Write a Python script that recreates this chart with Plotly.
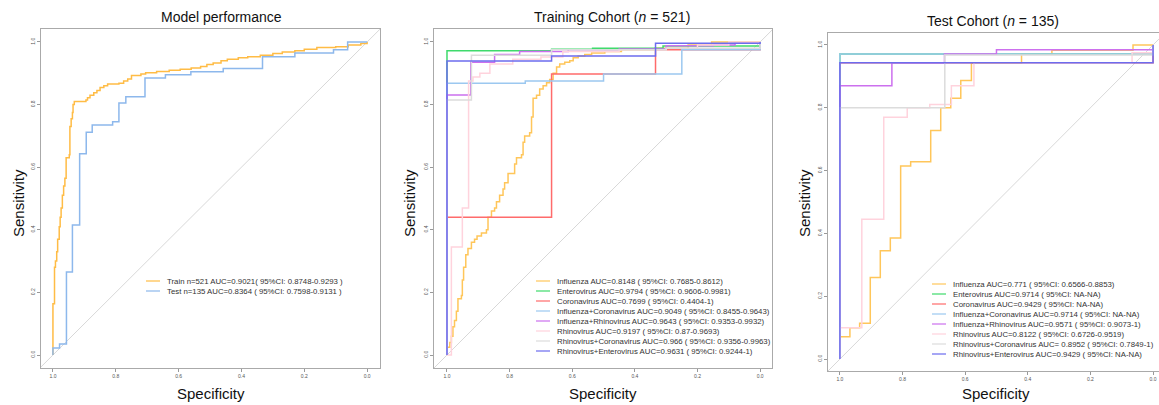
import plotly.graph_objects as go

W, H = 1159, 405

# ---------------- data ----------------
# Panel 1: Model performance
p1_labels = ["Train n=521 AUC=0.9021( 95%CI: 0.8748-0.9293 )",
             "Test n=135 AUC=0.8364 ( 95%CI: 0.7598-0.9131 )"]
p1_colors = ["#FFBC45", "#8DB8EC"]
train_spec = [1.0, 1.0, 0.995, 0.992, 0.988, 0.985, 0.98, 0.977, 0.974, 0.97, 0.966, 0.962, 0.958, 0.948,
              0.946, 0.942, 0.938, 0.936, 0.932, 0.895, 0.89, 0.882, 0.87, 0.86, 0.85, 0.838, 0.826, 0.79,
              0.775, 0.762, 0.75, 0.72, 0.705, 0.67, 0.63, 0.595, 0.56, 0.53, 0.51, 0.49, 0.465, 0.445,
              0.41, 0.38, 0.34, 0.3, 0.27, 0.23, 0.2, 0.16, 0.1, 0.06, 0.02, 0.0]
train_sens = [0.0, 0.164, 0.28, 0.30, 0.33, 0.37, 0.41, 0.44, 0.47, 0.51, 0.54, 0.565, 0.63, 0.64,
              0.73, 0.755, 0.775, 0.80, 0.81, 0.815, 0.822, 0.83, 0.838, 0.845, 0.855, 0.86, 0.866, 0.868,
              0.875, 0.882, 0.893, 0.898, 0.902, 0.906, 0.91, 0.913, 0.917, 0.922, 0.928, 0.933, 0.94, 0.945,
              0.95, 0.953, 0.958, 0.963, 0.968, 0.972, 0.977, 0.982, 0.985, 0.99, 0.995, 1.0]
test_spec = [1.0, 1.0, 0.979, 0.957, 0.938, 0.915, 0.894, 0.875, 0.81, 0.79, 0.768, 0.707, 0.642, 0.561,
             0.458, 0.333, 0.23, 0.107, 0.062, 0.0]
test_sens = [0.0, 0.022, 0.035, 0.265, 0.415, 0.643, 0.712, 0.735, 0.745, 0.805, 0.825, 0.885, 0.895, 0.905,
             0.915, 0.953, 0.965, 0.975, 1.0, 1.0]

# Panels 2 and 3: per-virus models
virus_names = ["Influenza", "Enterovirus", "Coronavirus", "Influenza+Coronavirus",
               "Influenza+Rhinovirus", "Rhinovirus", "Rhinovirus+Coronavirus", "Rhinovirus+Enterovirus"]
virus_colors = ["#FFC65A", "#3FDA6C", "#FF6B6B", "#9CC8F0", "#CC70EE", "#FFD3DD", "#DCDCDC", "#6C6CEE"]

train_labels = ["Influenza AUC=0.8148 ( 95%CI: 0.7685-0.8612)",
                "Enterovirus AUC=0.9794 ( 95%CI: 0.9606-0.9981)",
                "Coronavirus AUC=0.7699 ( 95%CI: 0.4404-1)",
                "Influenza+Coronavirus AUC=0.9049 ( 95%CI: 0.8455-0.9643)",
                "Influenza+Rhinovirus AUC=0.9643 ( 95%CI: 0.9353-0.9932)",
                "Rhinovirus AUC=0.9197 ( 95%CI: 0.87-0.9693)",
                "Rhinovirus+Coronavirus AUC=0.966 ( 95%CI: 0.9356-0.9963)",
                "Rhinovirus+Enterovirus AUC=0.9631 ( 95%CI: 0.9244-1)"]
test_labels = ["Influenza AUC=0.771 ( 95%CI: 0.6566-0.8853)",
               "Enterovirus AUC=0.9714 ( 95%CI: NA-NA)",
               "Coronavirus AUC=0.9429 ( 95%CI: NA-NA)",
               "Influenza+Coronavirus AUC=0.9714 ( 95%CI: NA-NA)",
               "Influenza+Rhinovirus AUC=0.9571 ( 95%CI: 0.9073-1)",
               "Rhinovirus AUC=0.8122 ( 95%CI: 0.6726-0.9519)",
               "Rhinovirus+Coronavirus AUC= 0.8952 ( 95%CI: 0.7849-1)",
               "Rhinovirus+Enterovirus AUC=0.9429 ( 95%CI: NA-NA)"]

tr_influenza_spec = [1.0, 1.0, 0.991, 0.986, 0.981, 0.976, 0.97, 0.965, 0.954, 0.951, 0.947, 0.94, 0.933,
                     0.922, 0.912, 0.904, 0.89, 0.874, 0.869, 0.858, 0.848, 0.842, 0.832, 0.821, 0.816,
                     0.805, 0.784, 0.778, 0.762, 0.757, 0.752, 0.736, 0.73, 0.725, 0.714, 0.704, 0.693,
                     0.682, 0.672, 0.661, 0.65, 0.64, 0.624, 0.608, 0.597, 0.581, 0.56, 0.538, 0.496,
                     0.443, 0.336, 0.23, 0.155, 0.0]
tr_influenza_sens = [0.0, 0.025, 0.04, 0.06, 0.09, 0.11, 0.14, 0.18, 0.19, 0.24, 0.28, 0.32, 0.34,
                     0.36, 0.37, 0.38, 0.39, 0.40, 0.44, 0.46, 0.47, 0.49, 0.51, 0.53, 0.55,
                     0.58, 0.61, 0.63, 0.64, 0.68, 0.70, 0.71, 0.76, 0.82, 0.83, 0.85, 0.86,
                     0.87, 0.88, 0.90, 0.92, 0.93, 0.935, 0.94, 0.95, 0.955, 0.96, 0.965, 0.97,
                     0.975, 0.98, 0.99, 1.0, 1.0]
tr_entero_spec = [1.0, 1.0, 0.666, 0.535, 0.31, 0.0]
tr_entero_sens = [0.0, 0.972, 0.977, 0.98, 0.987, 1.0]
tr_corona_spec = [1.0, 1.0, 0.666, 0.334, 0.0]
tr_corona_sens = [0.0, 0.44, 0.898, 0.975, 1.0]
tr_flu_corona_spec = [1.0, 1.0, 0.75, 0.5, 0.25, 0.0]
tr_flu_corona_sens = [0.0, 0.868, 0.875, 0.898, 0.975, 1.0]
tr_flu_rhino_spec = [1.0, 1.0, 0.924, 0.848, 0.768, 0.613, 0.45, 0.3, 0.15, 0.08, 0.0]
tr_flu_rhino_sens = [0.0, 0.831, 0.935, 0.96, 0.97, 0.975, 0.978, 0.988, 0.99, 0.997, 1.0]
tr_rhino_spec = [1.0, 0.986, 0.951, 0.931, 0.917, 0.895, 0.863, 0.79, 0.70, 0.63, 0.45, 0.3, 0.2, 0.1, 0.0]
tr_rhino_sens = [0.0, 0.345, 0.47, 0.875, 0.888, 0.90, 0.93, 0.945, 0.952, 0.97, 0.975, 0.98, 0.99, 1.0, 1.0]
tr_rhino_corona_spec = [1.0, 1.0, 0.922, 0.666, 0.3, 0.0]
tr_rhino_corona_sens = [0.0, 0.815, 0.958, 0.975, 0.98, 1.0]
tr_rhino_entero_spec = [1.0, 1.0, 0.666, 0.334, 0.0]
tr_rhino_entero_sens = [0.0, 0.939, 0.955, 0.996, 1.0]

te_influenza_spec = [1.0, 1.0, 0.968, 0.937, 0.903, 0.871, 0.839, 0.806, 0.774, 0.71, 0.678, 0.646,
                     0.614, 0.58, 0.42, 0.323, 0.064, 0.0]
te_influenza_sens = [0.0, 0.071, 0.10, 0.114, 0.26, 0.345, 0.385, 0.615, 0.628, 0.728, 0.80, 0.83,
                     0.887, 0.942, 0.97, 0.983, 1.0, 1.0]
te_entero_spec = [1.0, 1.0, 0.0]
te_entero_sens = [0.0, 0.971, 1.0]
te_corona_spec = [1.0, 1.0, 0.0]
te_corona_sens = [0.0, 0.943, 1.0]
te_flu_corona_spec = [1.0, 1.0, 0.0]
te_flu_corona_sens = [0.0, 0.971, 1.0]
te_flu_rhino_spec = [1.0, 1.0, 0.834, 0.666, 0.5, 0.0]
te_flu_rhino_sens = [0.0, 0.87, 0.943, 0.971, 0.985, 1.0]
te_rhino_spec = [1.0, 1.0, 0.93, 0.86, 0.785, 0.713, 0.644, 0.572, 0.067, 0.0]
te_rhino_sens = [0.0, 0.10, 0.445, 0.77, 0.80, 0.81, 0.87, 0.943, 0.975, 1.0]
te_rhino_corona_spec = [1.0, 1.0, 0.665, 0.0]
te_rhino_corona_sens = [0.0, 0.80, 0.968, 1.0]
te_rhino_entero_spec = [1.0, 1.0, 0.0]
te_rhino_entero_sens = [0.0, 0.943, 1.0]

train_curves = [(tr_influenza_spec, tr_influenza_sens), (tr_entero_spec, tr_entero_sens),
                (tr_corona_spec, tr_corona_sens), (tr_flu_corona_spec, tr_flu_corona_sens),
                (tr_flu_rhino_spec, tr_flu_rhino_sens), (tr_rhino_spec, tr_rhino_sens),
                (tr_rhino_corona_spec, tr_rhino_corona_sens), (tr_rhino_entero_spec, tr_rhino_entero_sens)]
test_curves = [(te_influenza_spec, te_influenza_sens), (te_entero_spec, te_entero_sens),
               (te_corona_spec, te_corona_sens), (te_flu_corona_spec, te_flu_corona_sens),
               (te_flu_rhino_spec, te_flu_rhino_sens), (te_rhino_spec, te_rhino_sens),
               (te_rhino_corona_spec, te_rhino_corona_sens), (te_rhino_entero_spec, te_rhino_entero_sens)]

tick_vals = [0.0, 0.2, 0.4, 0.6, 0.8, 1.0]
tick_text = ["0.0", "0.2", "0.4", "0.6", "0.8", "1.0"]

titles = ["Model performance", "Training Cohort (<i>n</i> = 521)", "Test Cohort (<i>n</i> = 135)"]

# ---------------- figure ----------------
FONT = "Liberation Sans, Arial, sans-serif"
fig = go.Figure()


def px(x):
    return x / W


def py(y):
    return 1 - y / H


def diag(ax):
    fig.add_trace(go.Scatter(x=[1.1, -0.1], y=[-0.1, 1.1], mode="lines",
                             line=dict(color="#D8D8D8", width=1), xaxis="x" + ax, yaxis="y" + ax,
                             hoverinfo="skip", showlegend=False))


# panel 1
diag("")
for (sx, sy), c, lab in zip([(train_spec, train_sens), (test_spec, test_sens)], p1_colors, p1_labels):
    fig.add_trace(go.Scatter(x=sx, y=sy, mode="lines", line=dict(color=c, width=1.5, shape="hv"),
                             name=lab, xaxis="x", yaxis="y", showlegend=False))
# panel 2
diag("2")
for (sx, sy), c, lab in zip(train_curves, virus_colors, train_labels):
    fig.add_trace(go.Scatter(x=sx, y=sy, mode="lines", line=dict(color=c, width=1.5, shape="hv"),
                             name=lab, xaxis="x2", yaxis="y2", showlegend=False))
# panel 3
diag("3")
for (sx, sy), c, lab in zip(test_curves, virus_colors, test_labels):
    fig.add_trace(go.Scatter(x=sx, y=sy, mode="lines", line=dict(color=c, width=1.5, shape="hv"),
                             name=lab, xaxis="x3", yaxis="y3", showlegend=False))

axis_common = dict(tickvals=tick_vals, ticktext=tick_text, tickfont=dict(size=5, color="#555555", family=FONT),
                   ticks="outside", ticklen=3, tickcolor="#999999", showline=True, linecolor="#AAAAAA",
                   linewidth=1, showgrid=False, zeroline=False)

fig.update_layout(
    width=W, height=H, margin=dict(l=0, r=0, t=0, b=0),
    paper_bgcolor="white", plot_bgcolor="white", showlegend=False,
    font=dict(family=FONT, color="#222222"),
    xaxis=dict(domain=[px(41), px(380)], range=[1.038, -0.041], mirror=True, anchor="y", **axis_common),
    yaxis=dict(domain=[py(368), py(29)], range=[-0.0415, 1.0415], mirror=True, anchor="x", tickangle=-90,
               **axis_common),
    xaxis2=dict(domain=[px(434), px(772)], range=[1.0415, -0.038], mirror=True, anchor="y2", **axis_common),
    yaxis2=dict(domain=[py(368), py(29)], range=[-0.0415, 1.0415], mirror=True, anchor="x2", tickangle=-90,
                **axis_common),
    xaxis3=dict(domain=[px(828), 1.0], range=[1.038, -0.019], mirror=True, anchor="y3", **axis_common),
    yaxis3=dict(domain=[py(371), py(33)], range=[-0.038, 1.038], mirror=False, anchor="x3", tickangle=-90,
                **axis_common),
)

ann = []
shapes = []
# titles
for t, cx, cy in zip(titles, [221, 612, 993], [17, 17, 21]):
    ann.append(dict(text=t, x=px(cx), y=py(cy), xref="paper", yref="paper", showarrow=False,
                    xanchor="center", yanchor="middle", font=dict(size=14, color="#111111", family=FONT)))
# axis titles
for cx, cy in zip([211, 603, 996], [393, 393, 393]):
    ann.append(dict(text="Specificity", x=px(cx), y=py(cy), xref="paper", yref="paper", showarrow=False,
                    xanchor="center", yanchor="middle", font=dict(size=15, color="#111111", family=FONT)))
for cx, cy in zip([18, 409, 804], [203, 203, 203]):
    ann.append(dict(text="Sensitivity", x=px(cx), y=py(cy), xref="paper", yref="paper", showarrow=False,
                    textangle=-90, xanchor="center", yanchor="middle",
                    font=dict(size=15, color="#111111", family=FONT)))


# legends
def legend(labels, colors, x0, y0, dy):
    for i, (lab, c) in enumerate(zip(labels, colors)):
        yy = y0 + i * dy
        shapes.append(dict(type="line", xref="paper", yref="paper", x0=px(x0), x1=px(x0 + 14),
                           y0=py(yy), y1=py(yy), line=dict(color=c, width=1.2)))
        ann.append(dict(text=lab, x=px(x0 + 19), y=py(yy), xref="paper", yref="paper", showarrow=False,
                        xanchor="left", yanchor="middle", font=dict(size=7.8, color="#333333", family=FONT)))


legend(p1_labels, p1_colors, 146, 281, 10)
legend(train_labels, virus_colors, 536, 281, 10)
legend(test_labels, virus_colors, 932, 284, 10)

fig.update_layout(annotations=ann, shapes=shapes)
fig.write_html("out.html", config={"displayModeBar": False},
               post_script="document.body.style.margin='0px';document.body.style.overflow='hidden';")
